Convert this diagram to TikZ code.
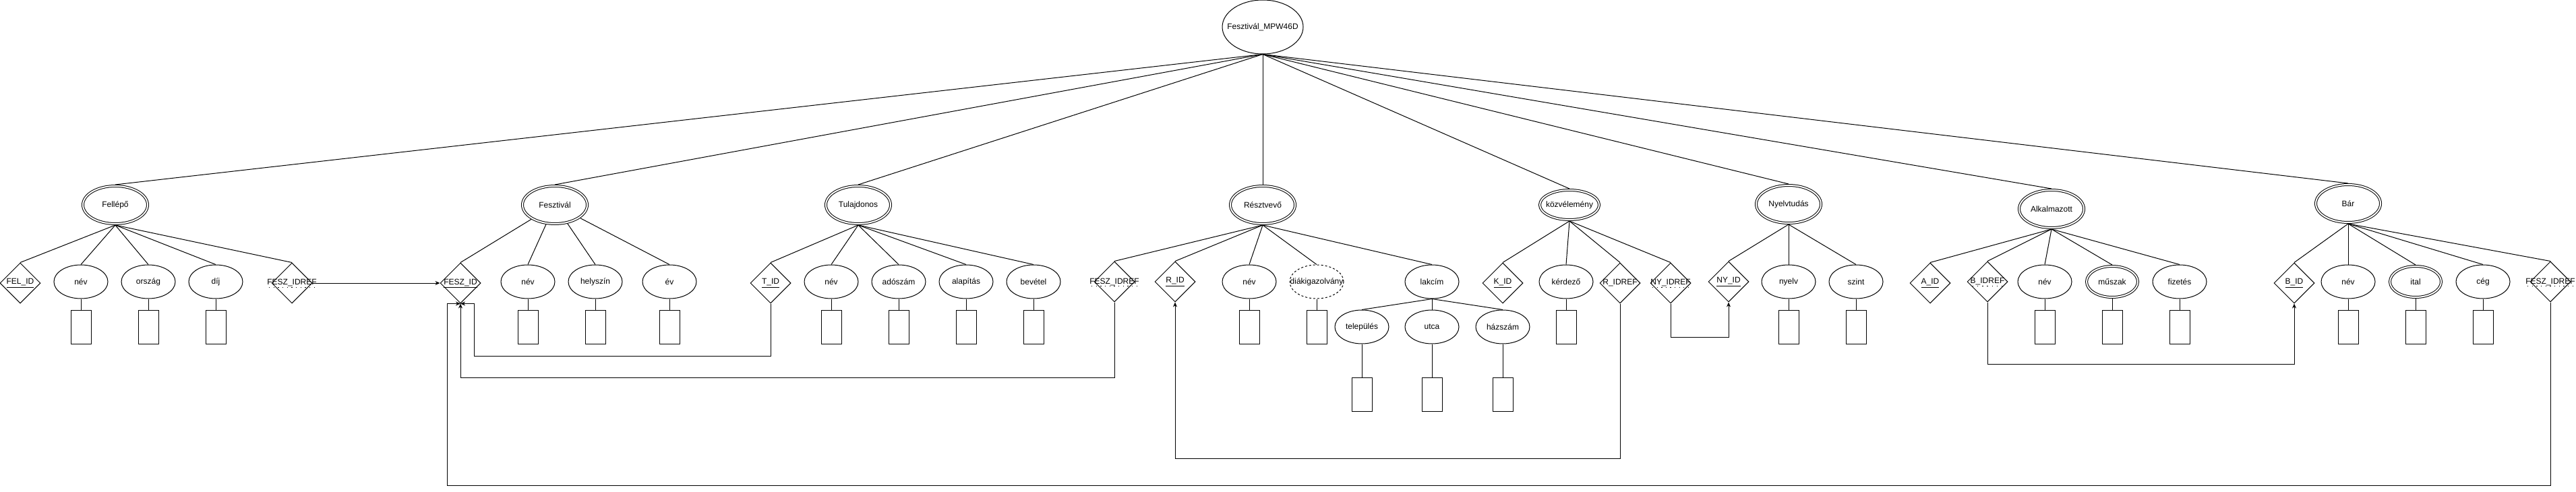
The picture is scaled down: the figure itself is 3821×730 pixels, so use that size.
\documentclass[tikz,border=0pt]{standalone}
\usepackage{fontspec}
\setmainfont{Liberation Sans}
\usetikzlibrary{shapes.geometric,arrows.meta}
\newcommand{\ztext}[1]{\makebox[0pt][c]{#1}}
\newsavebox{\dulbox}
\newcommand{\dotul}[1]{\sbox{\dulbox}{#1}\rlap{\raisebox{-4pt}[0pt][0pt]{\hbox to \wd\dulbox{\xleaders\hbox to 6.5pt{\hss\rule{1.3pt}{1.3pt}\hss}\hfill}}}\usebox{\dulbox}}
\begin{document}
\begin{tikzpicture}[x=1pt,y=-1pt,
  every node/.style={font=\fontsize{12}{14}\selectfont, inner sep=0pt},
  line/.style={draw=black, line width=1pt},
  rootell/.style={ellipse, draw, line width=1pt, minimum width=120, minimum height=80},
  ent/.style={ellipse, draw, line width=1pt, double, double distance=2pt, minimum width=96, minimum height=56, outer sep=2pt},
  attr/.style={ellipse, draw, line width=1pt, minimum width=80, minimum height=50},
  mattr/.style={ellipse, draw, line width=1pt, double, double distance=2pt, minimum width=76, minimum height=46, outer sep=2pt},
  dattr/.style={attr, dashed},
  keyd/.style={diamond, draw, line width=1pt, minimum width=60, minimum height=60, aspect=1},
  valbox/.style={rectangle, draw, line width=1pt, minimum width=30, minimum height=50},
  arr/.style={line width=1pt, -{Stealth[length=7pt,width=6pt]}},
]
\useasboundingbox (0,0) rectangle (3821,730);

% root
\node[rootell] (root) at (1873,40) {\ztext{Fesztivál\_MPW46D}};

% entities
\node[ent] (fel) at (171,304) {\ztext{Fellépő}};
\node[ent] (fesz) at (823,304) {\ztext{Fesztivál}};
\node[ent] (tul) at (1273,304) {\ztext{Tulajdonos}};
\node[ent] (resz) at (1873,304) {\ztext{Résztvevő}};
\node[ent, minimum width=88, minimum height=44] (kozv) at (2328,304) {\ztext{közvélemény}};
\node[ent] (nyelvt) at (2653,303) {\ztext{Nyelvtudás}};
\node[ent] (alk) at (3043,310) {\ztext{Alkalmazott}};
\node[ent] (bar) at (3483,302) {\ztext{Bár}};

\foreach \e in {fel,fesz,tul,resz,kozv,nyelvt,alk,bar}
  \draw[line] (root.south) -- (\e.north);

% Fellépő
\node[keyd] (felid) at (30,420) {\ztext{\underline{FEL\_ID}}};
\node[attr] (felnev) at (120,418) {\ztext{név}};
\node[attr] (felorsz) at (220,418) {\ztext{ország}};
\node[attr] (feldij) at (320,418) {\ztext{díj}};
\node[keyd] (felref) at (433,420) {\ztext{\dotul{FESZ\_IDREF}}};
\node[valbox] (felnevv) at (120,485) {};
\node[valbox] (felorszv) at (220,485) {};
\node[valbox] (feldijv) at (320,485) {};

% Fesztivál
\node[keyd] (feszid) at (683,420) {\ztext{\underline{FESZ\_ID}}};
\node[attr] (fnev) at (783,418) {\ztext{név}};
\node[attr] (fhely) at (883,418) {\ztext{helyszín}};
\node[attr] (fev) at (993,418) {\ztext{év}};
\node[valbox] (fnevv) at (783,485) {};
\node[valbox] (fhelyv) at (883,485) {};
\node[valbox] (fevv) at (993,485) {};

% Tulajdonos
\node[keyd] (tid) at (1143,420) {\ztext{\underline{T\_ID}}};
\node[attr] (tnev) at (1233,418) {\ztext{név}};
\node[attr] (tado) at (1333,418) {\ztext{adószám}};
\node[attr] (talap) at (1433,418) {\ztext{alapítás}};
\node[attr] (tbev) at (1533,418) {\ztext{bevétel}};
\node[valbox] (tnevv) at (1233,485) {};
\node[valbox] (tadov) at (1333,485) {};
\node[valbox] (talapv) at (1433,485) {};
\node[valbox] (tbevv) at (1533,485) {};

% Résztvevő
\node[keyd] (rfref) at (1653,418) {\ztext{\dotul{FESZ\_IDREF}}};
\node[keyd] (rid) at (1743,418) {\ztext{\underline{R\_ID}}};
\node[attr] (rnev) at (1853,418) {\ztext{név}};
\node[dattr] (rdiak) at (1953,418) {\ztext{diákigazolvány}};
\node[attr] (rlak) at (2124,418) {\ztext{lakcím}};
\node[valbox] (rnevv) at (1853,485) {};
\node[valbox] (rdiakv) at (1953,485) {};
\node[attr] (rtel) at (2020,485) {\ztext{település}};
\node[attr] (rutca) at (2124,485) {\ztext{utca}};
\node[attr] (rhaz) at (2229,485) {\ztext{házszám}};
\node[valbox] (rtelv) at (2020,585) {};
\node[valbox] (rutcav) at (2124,585) {};
\node[valbox] (rhazv) at (2229,585) {};

% közvélemény
\node[keyd] (kid) at (2229,420) {\ztext{\underline{K\_ID}}};
\node[attr] (kkerd) at (2323,418) {\ztext{kérdező}};
\node[keyd] (kridref) at (2403,420) {\ztext{R\_IDREF}};
\node[keyd] (knyref) at (2478,420) {\ztext{\dotul{NY\_IDREF}}};
\node[valbox] (kkerdv) at (2323,485) {};

% Nyelvtudás
\node[keyd] (nyid) at (2564,418) {\ztext{\underline{NY\_ID}}};
\node[attr] (nynyelv) at (2653,418) {\ztext{nyelv}};
\node[attr] (nyszint) at (2753,418) {\ztext{szint}};
\node[valbox] (nynyelvv) at (2653,485) {};
\node[valbox] (nyszintv) at (2753,485) {};

% Alkalmazott
\node[keyd] (aid) at (2863,420) {\ztext{\underline{A\_ID}}};
\node[keyd] (abref) at (2948,418) {\ztext{\dotul{B\_IDREF}}};
\node[attr] (anev) at (3033,418) {\ztext{név}};
\node[mattr] (amusz) at (3133,418) {\ztext{műszak}};
\node[attr] (afiz) at (3233,418) {\ztext{fizetés}};
\node[valbox] (anevv) at (3033,485) {};
\node[valbox] (amuszv) at (3133,485) {};
\node[valbox] (afizv) at (3233,485) {};

% Bár
\node[keyd] (bid) at (3403,420) {\ztext{\underline{B\_ID}}};
\node[attr] (bnev) at (3483,418) {\ztext{név}};
\node[mattr] (bital) at (3583,418) {\ztext{ital}};
\node[attr] (bceg) at (3683,418) {\ztext{cég}};
\node[keyd] (bfref) at (3783,418) {\ztext{\dotul{FESZ\_IDREF}}};
\node[valbox] (bnevv) at (3483,485) {};
\node[valbox] (bitalv) at (3583,485) {};
\node[valbox] (bcegv) at (3683,485) {};

% entity -> attribute lines
\foreach \c in {felid,felnev,felorsz,feldij,felref} \draw[line] (fel.south) -- (\c.north);
\foreach \c in {feszid,fnev,fhely,fev} \draw[line] (fesz) -- (\c.north);
\foreach \c in {tid,tnev,tado,talap,tbev} \draw[line] (tul.south) -- (\c.north);
\foreach \c in {rfref,rid,rnev,rdiak,rlak} \draw[line] (resz.south) -- (\c.north);
\foreach \c in {rtel,rutca,rhaz} \draw[line] (rlak.south) -- (\c.north);
\foreach \c in {kid,kkerd,kridref,knyref} \draw[line] (kozv.south) -- (\c.north);
\foreach \c in {nyid,nynyelv,nyszint} \draw[line] (nyelvt.south) -- (\c.north);
\foreach \c in {aid,abref,anev,amusz,afiz} \draw[line] (alk.south) -- (\c.north);
\foreach \c in {bid,bnev,bital,bceg,bfref} \draw[line] (bar.south) -- (\c.north);

% attribute -> value boxes
\foreach \a in {felnev,felorsz,feldij,fnev,fhely,fev,tnev,tado,talap,tbev,rnev,rdiak,rtel,rutca,rhaz,kkerd,nynyelv,nyszint,anev,amusz,afiz,bnev,bital,bceg}
  \draw[line] (\a.south) -- (\a v.north);

% reference arrows
\draw[arr] (felref.east) -- (feszid.west);
\draw[arr] (tid.south) -- (tid.south |- 0,528) -| ([xshift=20pt]feszid.south) -- (feszid.south);
\draw[arr] (rfref.south) -- (rfref.south |- 0,560) -| (feszid.south);
\draw[arr] (bfref.south) -- (bfref.south |- 0,720) -| ([xshift=-20pt]feszid.south) -- (feszid.south);
\draw[arr] (kridref.south) -- (kridref.south |- 0,680) -| (rid.south);
\draw[arr] (knyref.south) -- (knyref.south |- 0,500) -| (nyid.south);
\draw[arr] (abref.south) -- (abref.south |- 0,540) -| (bid.south);
\end{tikzpicture}
\end{document}
